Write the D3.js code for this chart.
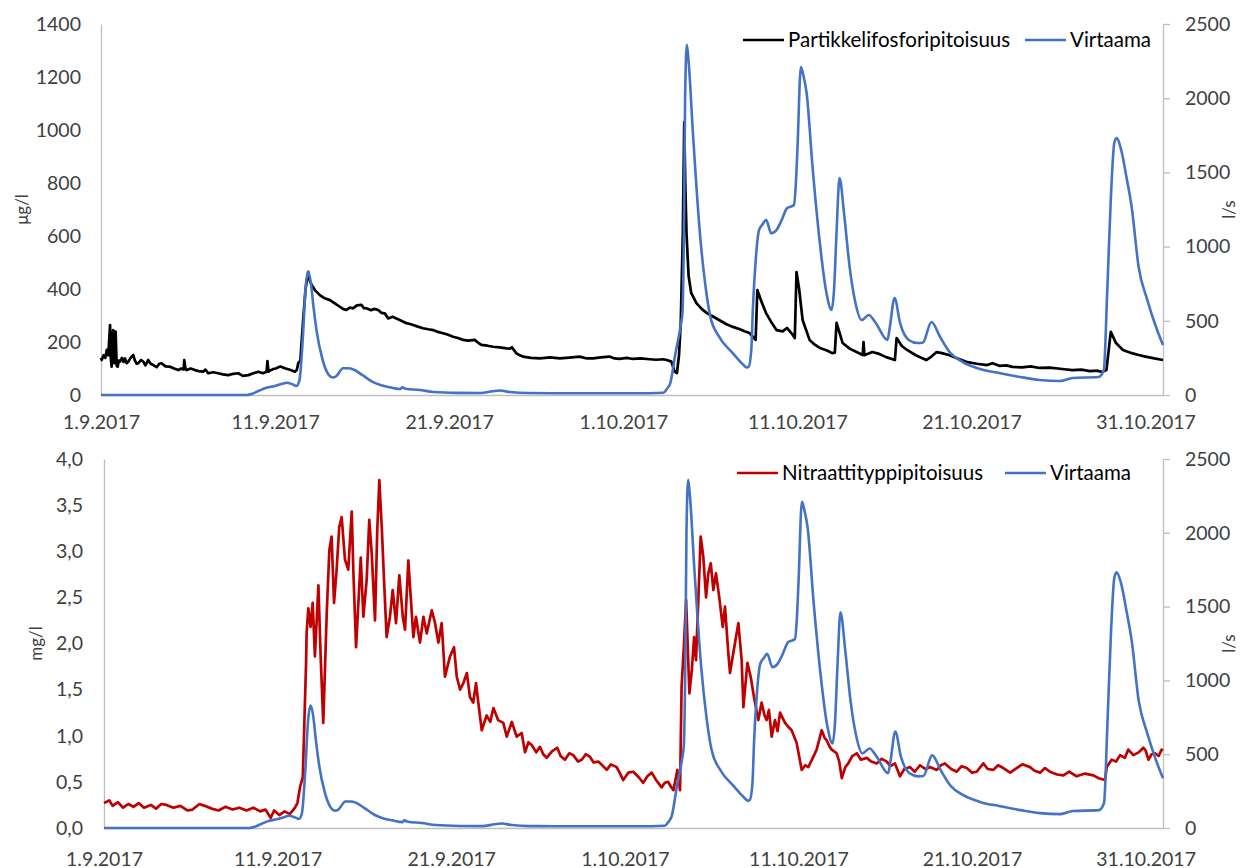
<!DOCTYPE html>
<html>
<head>
<meta charset="utf-8">
<script src="https://cdn.jsdelivr.net/npm/d3@7"></script>
<style>
body { margin: 0; background: #fff; }
text { font-family: Lato, "Noto Sans", sans-serif; }
</style>
</head>
<body>
<div class="chart"></div>
<script>
// data: [days since 1.9.2017 00:00, value]
const flow = [
  [0,0],[8.4,0],[8.74,11],[9.1,30],[9.41,45],[9.99,61],[10.4,75],[10.66,83],[11.0,72],[11.23,61],[11.4,100],
  [11.6,400],[11.75,720],[11.9,829],[12.05,760],[12.2,600],[12.4,420],[12.7,250],[13.0,150],[13.3,118],
  [13.5,125],[13.9,180],[14.2,180],[14.5,172],[15.0,135],[15.6,88],[16.1,65],[16.6,52],[17.2,40],
  [17.3,52],[17.5,42],[18.3,34],[19.1,20],[20.5,14],[21.8,13],[22.5,25],[22.9,30],[23.5,20],[24.5,13],
  [26,12],[28,12],[30,12],[31.5,12],[32.3,15],[32.5,40],[32.7,80],[33.0,283],[33.3,470],[33.4,560],
  [33.5,1300],[33.55,2000],[33.65,2359],[33.75,2250],[34.0,1765],[34.4,1090],[34.7,753],[35.0,528],
  [35.5,393],[36.3,281],[36.8,215],[37.1,185],[37.2,190],[37.35,300],[37.45,600],[37.6,900],[37.8,1112],
  [38.0,1150],[38.2,1180],[38.5,1090],[38.8,1112],[39.1,1180],[39.4,1258],[39.8,1280],[39.9,1400],
  [40.0,1651],[40.2,2210],[40.35,2150],[40.53,2035],[40.87,1537],[41.27,1045],[41.67,687],[41.96,573],
  [42.1,700],[42.25,1100],[42.42,1462],[42.7,1200],[43.0,863],[43.3,640],[43.69,505],[44.1,539],
  [44.5,485],[45.17,371],[45.3,450],[45.58,654],[45.9,485],[46.4,371],[46.9,350],[47.2,352],[47.7,492],
  [48.2,391],[48.74,290],[49.5,222],[50.5,175],[51.6,148],[52.8,121],[53.9,101],[55.1,94],[55.8,115],
  [57.3,121],[57.6,168],[57.8,708],[58.0,1314],[58.2,1698],[58.33,1732],[58.6,1651],[58.9,1469],
  [59.2,1267],[59.6,863],[60.1,640],[60.6,458],[61.0,337]
];

const phosphorus = [
  [0,140],[0.04,132],[0.15,150],[0.25,140],[0.33,170],[0.42,150],[0.52,264],[0.56,140],[0.61,107],
  [0.66,230],[0.7,245],[0.75,120],[0.8,240],[0.84,239],[0.9,110],[0.96,107],[1.02,130],[1.09,126],
  [1.2,140],[1.3,125],[1.38,138],[1.47,120],[1.57,126],[1.7,140],[1.85,151],[1.95,130],[2.05,118],
  [2.14,120],[2.3,132],[2.43,126],[2.55,112],[2.71,132],[2.85,118],[3.0,113],[3.2,105],[3.35,118],
  [3.48,120],[3.7,108],[3.96,107],[4.2,100],[4.44,94],[4.6,100],[4.75,96],[4.78,132],[4.85,100],
  [4.92,94],[5.15,100],[5.4,94],[5.6,90],[5.87,88],[6.0,96],[6.16,82],[6.45,86],[6.73,82],[7.0,78],
  [7.31,75],[7.6,80],[7.88,82],[8.15,72],[8.46,75],[8.75,82],[9.03,88],[9.3,82],[9.51,88],[9.56,128],
  [9.62,88],[9.7,92],[9.9,98],[10.08,101],[10.3,108],[10.56,101],[10.85,95],[11.14,88],[11.25,95],
  [11.33,120],[11.45,130],[11.61,283],[11.75,400],[11.9,465],[12.0,430],[12.1,415],[12.3,395],
  [12.57,377],[12.85,365],[13.15,358],[13.45,345],[13.72,333],[13.9,325],[14.1,321],[14.3,330],
  [14.48,327],[14.7,338],[14.96,340],[15.1,328],[15.25,327],[15.5,320],[15.7,325],[15.92,321],
  [16.1,310],[16.3,308],[16.5,289],[16.75,295],[16.97,289],[17.25,280],[17.55,271],[17.75,268],
  [17.93,264],[18.2,258],[18.5,252],[18.8,248],[19.08,245],[19.35,238],[19.65,233],[19.9,228],
  [20.22,220],[20.5,215],[20.8,208],[21.1,205],[21.47,208],[21.65,198],[21.85,189],[22.2,186],
  [22.52,182],[22.9,180],[23.29,176],[23.5,175],[23.6,180],[23.86,157],[24.05,150],[24.24,145],
  [24.7,140],[25.2,138],[25.8,142],[26.35,138],[26.9,141],[27.5,145],[27.9,138],[28.26,138],[28.7,142],
  [29.2,145],[29.5,138],[29.79,136],[30.2,140],[30.56,136],[31.0,138],[31.52,135],[31.9,133],
  [32.28,135],[32.5,132],[32.76,126],[32.95,88],[33.08,83],[33.2,150],[33.3,272],[33.42,611],
  [33.5,1030],[33.56,800],[33.63,611],[33.75,450],[33.9,385],[34.2,347],[34.5,325],[34.8,309],
  [35.1,298],[35.5,283],[35.9,268],[36.3,257],[36.7,248],[37.0,240],[37.25,234],[37.6,208],[37.7,396],
  [37.95,350],[38.2,309],[38.5,275],[38.8,245],[39.15,240],[39.4,253],[39.7,230],[39.85,215],
  [39.95,464],[40.1,400],[40.3,283],[40.7,208],[41.0,190],[41.3,177],[41.7,168],[42.0,158],
  [42.15,160],[42.25,272],[42.6,196],[43.0,175],[43.4,162],[43.75,151],[43.8,200],[43.85,150],
  [44.3,162],[44.7,155],[45.1,143],[45.6,132],[45.7,215],[46.0,185],[46.3,170],[46.8,150],[47.4,132],
  [47.7,145],[48.0,162],[48.3,158],[48.7,151],[49.2,138],[49.7,125],[50.3,118],[50.9,113],[51.2,120],
  [51.6,110],[52.0,112],[52.35,106],[52.9,104],[53.4,108],[53.9,102],[54.5,103],[55.2,98],[55.8,94],
  [56.3,96],[56.8,90],[57.2,92],[57.5,87],[57.75,94],[57.9,180],[58.0,238],[58.3,196],[58.7,170],
  [59.1,160],[59.6,151],[60.0,145],[60.5,138],[61.0,132]
];

const nitrate = [
  [0,0.27],[0.3,0.30],[0.5,0.24],[0.8,0.28],[1.1,0.22],[1.4,0.26],[1.7,0.23],[2.0,0.27],[2.3,0.22],
  [2.7,0.25],[3.0,0.21],[3.3,0.26],[3.6,0.25],[4.0,0.22],[4.4,0.24],[4.8,0.19],[5.1,0.20],[5.5,0.26],
  [5.8,0.24],[6.2,0.21],[6.6,0.19],[7.0,0.23],[7.4,0.20],[7.8,0.22],[8.2,0.19],[8.6,0.22],[9.0,0.18],
  [9.3,0.20],[9.6,0.11],[9.8,0.19],[10.1,0.14],[10.4,0.18],[10.7,0.15],[11.0,0.22],[11.14,0.27],
  [11.3,0.45],[11.45,0.55],[11.64,1.79],[11.67,2.11],[11.77,2.38],[11.9,2.18],[12.02,2.44],[12.15,1.86],
  [12.35,2.63],[12.48,1.86],[12.63,1.14],[12.83,2.33],[12.98,3.01],[13.11,3.16],[13.25,2.44],[13.4,2.80],
  [13.55,3.26],[13.69,3.37],[13.88,2.91],[14.07,2.80],[14.27,3.43],[14.36,2.80],[14.52,1.96],[14.79,2.93],
  [14.94,2.29],[15.13,2.69],[15.28,3.34],[15.42,2.98],[15.61,2.25],[15.74,3.23],[15.86,3.77],[16.0,3.26],
  [16.13,2.69],[16.28,2.07],[16.47,2.29],[16.63,2.58],[16.82,2.22],[17.01,2.74],[17.21,2.29],[17.34,2.15],
  [17.53,2.90],[17.67,2.50],[17.82,2.07],[17.97,2.29],[18.2,2.01],[18.4,2.29],[18.59,2.11],[18.88,2.36],
  [19.07,2.22],[19.26,2.01],[19.45,2.22],[19.64,1.64],[19.93,1.86],[20.16,1.96],[20.32,1.64],[20.51,1.50],
  [20.7,1.57],[20.9,1.68],[21.08,1.42],[21.27,1.36],[21.43,1.57],[21.56,1.36],[21.76,1.06],[22.04,1.22],
  [22.25,1.15],[22.43,1.30],[22.7,1.17],[23.0,1.14],[23.2,0.99],[23.49,1.15],[23.77,0.99],[24.06,1.03],
  [24.25,0.82],[24.45,0.93],[24.64,0.90],[24.9,0.82],[25.11,0.88],[25.3,0.80],[25.5,0.76],[25.8,0.83],
  [26.11,0.87],[26.3,0.78],[26.55,0.74],[26.8,0.81],[27.03,0.79],[27.3,0.72],[27.52,0.74],[27.75,0.80],
  [28.0,0.77],[28.2,0.71],[28.47,0.72],[28.7,0.68],[28.96,0.63],[29.2,0.69],[29.53,0.66],[29.7,0.60],
  [29.91,0.52],[30.2,0.60],[30.49,0.61],[30.8,0.55],[31.06,0.49],[31.3,0.56],[31.55,0.60],[31.8,0.52],
  [32.12,0.44],[32.3,0.49],[32.5,0.50],[32.65,0.45],[32.8,0.41],[33.03,0.63],[33.18,0.41],[33.27,1.53],
  [33.4,1.96],[33.53,2.47],[33.72,1.46],[33.86,1.71],[33.99,2.07],[34.1,1.82],[34.24,2.50],[34.37,3.16],
  [34.52,2.94],[34.68,2.50],[34.81,2.76],[34.95,2.87],[35.1,2.58],[35.25,2.76],[35.44,2.50],[35.64,2.18],
  [35.77,2.40],[35.96,1.90],[36.06,1.68],[36.25,1.90],[36.54,2.22],[36.73,1.82],[36.83,1.31],[37.06,1.79],
  [37.25,1.64],[37.44,1.42],[37.69,1.17],[37.88,1.36],[38.05,1.22],[38.17,1.17],[38.3,1.28],[38.46,0.99],
  [38.65,1.17],[38.8,1.05],[38.94,1.25],[39.23,1.14],[39.4,1.10],[39.61,1.06],[39.9,0.92],[40.19,0.63],
  [40.4,0.68],[40.57,0.66],[40.8,0.75],[41.05,0.85],[41.34,1.06],[41.5,0.98],[41.63,0.95],[41.8,0.88],
  [41.92,0.85],[42.2,0.81],[42.35,0.72],[42.5,0.54],[42.7,0.66],[42.87,0.70],[43.1,0.78],[43.36,0.81],
  [43.6,0.74],[43.93,0.76],[44.2,0.72],[44.51,0.70],[44.8,0.75],[45.09,0.72],[45.3,0.67],[45.56,0.70],
  [45.85,0.56],[46.1,0.64],[46.43,0.66],[46.7,0.61],[47.0,0.68],[47.3,0.64],[47.58,0.66],[47.97,0.63],
  [48.2,0.68],[48.44,0.70],[48.8,0.64],[49.12,0.61],[49.4,0.67],[49.7,0.65],[50.0,0.60],[50.27,0.61],
  [50.65,0.70],[50.9,0.64],[51.23,0.63],[51.5,0.68],[51.8,0.65],[52.2,0.60],[52.57,0.65],[52.9,0.69],
  [53.34,0.66],[53.6,0.62],[53.92,0.60],[54.2,0.65],[54.49,0.61],[54.9,0.58],[55.26,0.57],[55.6,0.61],
  [56.03,0.56],[56.5,0.59],[56.99,0.57],[57.3,0.54],[57.66,0.52],[57.76,0.66],[58.04,0.74],[58.3,0.72],
  [58.53,0.79],[58.8,0.76],[59.0,0.85],[59.29,0.79],[59.6,0.82],[59.87,0.87],[60.0,0.84],[60.16,0.74],
  [60.35,0.80],[60.54,0.81],[60.75,0.78],[60.92,0.85],[61.0,0.84]
];

const dateTicks = ['2017-09-01','2017-09-11','2017-09-21','2017-10-01','2017-10-11','2017-10-21','2017-10-31'];
const phosTicks = [0,200,400,600,800,1000,1200,1400];
const nitrTicks = [0,0.5,1,1.5,2,2.5,3,3.5,4];
const flowTicks = [0,500,1000,1500,2000,2500];

const start = new Date(2017, 8, 1);
const toDate = d => new Date(start.getTime() + d * 864e5);
const parseDay = s => { const p = s.split('-'); return new Date(+p[0], +p[1] - 1, +p[2]); };
const fmtDate = d => `${d.getDate()}.${d.getMonth() + 1}.${d.getFullYear()}`;

const width = 1251, height = 868;
const svg = d3.select('.chart').append('svg')
  .attr('width', width)
  .attr('height', height);

const grey = '#bfbfbf';
const labelColor = '#404040';

function panel(o) {
  const x = d3.scaleTime().domain([start, toDate(61)]).range([o.left, o.right]);
  const y = d3.scaleLinear().domain([0, o.max]).range([o.bottom, o.top]);
  const y2 = d3.scaleLinear().domain([0, 2500]).range([o.bottom, o.top]);
  const g = svg.append('g');

  // x axis
  const xa = g.append('g').attr('transform', `translate(0,${o.bottom})`)
    .call(d3.axisBottom(x).tickValues(dateTicks.map(parseDay)).tickFormat(fmtDate)
      .tickSize(0).tickSizeOuter(0).tickPadding(o.xPad));
  // left axis
  const ya = g.append('g').attr('transform', `translate(${o.left},0)`)
    .call(d3.axisLeft(y).tickValues(o.ticks).tickFormat(o.fmt).tickSize(0).tickSizeOuter(0).tickPadding(o.left - o.labelRight));
  // right axis
  const ra = g.append('g').attr('transform', `translate(${o.right},0)`)
    .call(d3.axisRight(y2).tickValues(flowTicks).tickFormat(d3.format('d')).tickSize(7).tickSizeOuter(0).tickPadding(15));

  [xa, ya, ra].forEach(a => {
    a.select('.domain').attr('stroke', grey).attr('stroke-width', 1.3);
    a.selectAll('.tick line').attr('stroke', grey).attr('stroke-width', 1.3);
    a.selectAll('.tick text').attr('fill', labelColor).style('font-size', '19.5px');
  });

  // axis titles
  g.append('text')
    .attr('transform', `translate(${o.titleX},${(o.top + o.bottom) / 2}) rotate(-90)`)
    .attr('text-anchor', 'middle').attr('fill', labelColor).style('font-size', '17px')
    .text(o.title);
  g.append('text')
    .attr('transform', `translate(${1235},${(o.top + o.bottom) / 2}) rotate(-90)`)
    .attr('text-anchor', 'middle').attr('fill', labelColor).style('font-size', '17px')
    .text('l/s');

  const line = sc => d3.line().x(d => x(toDate(d[0]))).y(d => sc(d[1]));

  g.append('path').datum(o.data)
    .attr('d', line(y)).attr('fill', 'none')
    .attr('stroke', o.color).attr('stroke-width', 2.7).attr('stroke-linejoin', 'round');
  g.append('path').datum(flow)
    .attr('d', line(y2).curve(d3.curveMonotoneX)).attr('fill', 'none')
    .attr('stroke', '#4472c4').attr('stroke-width', 2.6).attr('stroke-linejoin', 'round');

  // legend
  const items = [
    {name: o.name, color: o.color, x: o.legX[0]},
    {name: 'Virtaama', color: '#4472c4', x: o.legX[1]}
  ];
  items.forEach(it => {
    g.append('line')
      .attr('x1', it.x).attr('x2', it.x + 41)
      .attr('y1', o.legY).attr('y2', o.legY)
      .attr('stroke', it.color).attr('stroke-width', 2.6);
    g.append('text')
      .attr('x', it.x + 45).attr('y', o.legY).attr('dy', '0.35em')
      .attr('fill', '#000').style('font-size', '20.5px')
      .text(it.name);
  });
}

panel({
  left: 101, right: 1163, top: 24, bottom: 395, max: 1400,
  ticks: phosTicks, fmt: d3.format('d'), labelRight: 81, xPad: 20,
  title: 'μg/l', titleX: 28, data: phosphorus, color: '#000000',
  name: 'Partikkelifosforipitoisuus', legX: [743, 1025], legY: 40
});

panel({
  left: 104, right: 1163, top: 459, bottom: 828, max: 4,
  ticks: nitrTicks, fmt: d => d3.format('.1f')(d).replace('.', ','), labelRight: 83, xPad: 24,
  title: 'mg/l', titleX: 42, data: nitrate, color: '#c00000',
  name: 'Nitraattityppipitoisuus', legX: [737, 1005], legY: 473
});
</script>
</body>
</html>
